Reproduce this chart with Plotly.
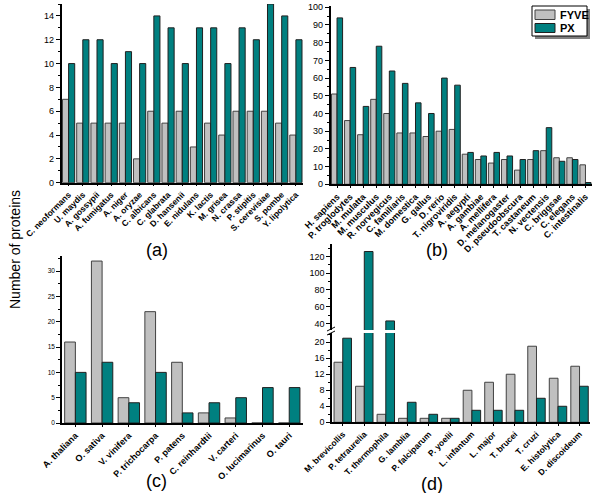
import plotly.graph_objects as go

# ---------------- data ----------------
a_species = ["C. neoformans", "U. maydis", "A. gossypii", "A. fumigatus", "A. niger", "A. oryzae",
             "C. albicans", "C. glabrata", "D. hansenii", "E. nidulans", "K. lactis", "M. grisea",
             "N. crassa", "P. stipitis", "S. cerevisiae", "S. pombe", "Y. lipolytica"]
a_fyve = [7, 5, 5, 5, 5, 2, 6, 5, 6, 3, 5, 4, 6, 6, 6, 5, 4]
a_px = [10, 12, 12, 10, 11, 10, 14, 13, 10, 13, 13, 10, 13, 12, 15, 14, 12]

b_species = ["H. sapiens", "P. troglodytes", "M. mulatta", "M. musculus", "R. norvegicus",
             "C. familiaris", "M. domestica", "G. gallus", "D. rerio", "T. nigroviridis",
             "A. aegypti", "A. gambiae", "A. mellifera", "D. melanogaster", "D. pseudoobscura",
             "T. castaneum", "N. vectensis", "C. briggsae", "C. elegans", "C. intestinalis"]
b_fyve = [51, 36, 28, 48, 40, 29, 29, 27, 30, 31, 17, 14, 12, 14, 8, 14, 19, 15, 15, 11]
b_px = [94, 66, 44, 78, 64, 57, 46, 40, 60, 56, 18, 16, 18, 16, 14, 19, 32, 13, 14, 1]

c_species = ["A. thaliana", "O. sativa", "V. vinifera", "P. trichocarpa", "P. patens",
             "C. reinhardtii", "V. carteri", "O. lucimarinus", "O. tauri"]
c_fyve = [16, 32, 5, 22, 12, 2, 1, 0, 0]
c_px = [10, 12, 4, 10, 2, 4, 5, 7, 7]

d_species = ["M. brevicollis", "P. tetraurelia", "T. thermophila", "G. lamblia", "P. falciparum",
             "P. yoelii", "L. infantum", "L. major", "T. brucei", "T. cruzi", "E. histolytica",
             "D. discoideum"]
d_fyve = [15, 9, 2, 1, 1, 1, 8, 10, 12, 19, 11, 14]
d_px = [21, 126, 43, 5, 2, 1, 3, 3, 3, 6, 4, 9]

series_names = ["FYVE", "PX"]

GRAY = "#c0c0c0"
TEAL = "#008080"
FONT = "Liberation Sans, Arial, sans-serif"
W, H = 600, 493


def px2x(p):
    return p / W


def px2y(p):
    return 1 - p / H


fig = go.Figure()


def add_pair(cats, fy, pxv, xa, ya, gap):
    w = (1 - gap) / 2
    fig.add_trace(go.Bar(x=cats, y=fy, name=series_names[0], xaxis=xa, yaxis=ya,
                         marker=dict(color=GRAY, line=dict(color="#404040", width=1)),
                         width=w, offset=-w, showlegend=False))
    fig.add_trace(go.Bar(x=cats, y=pxv, name=series_names[1], xaxis=xa, yaxis=ya,
                         marker=dict(color=TEAL, line=dict(color="#202020", width=1)),
                         width=w, offset=0, showlegend=False))


add_pair(a_species, a_fyve, a_px, "x", "y", 0.14)
add_pair(b_species, b_fyve, b_px, "x2", "y2", 0.15)
add_pair(c_species, c_fyve, c_px, "x3", "y3", 0.2)
add_pair(d_species, d_fyve, d_px, "x4", "y4", 0.19)
add_pair(d_species, d_fyve, d_px, "x4", "y5", 0.19)

xcommon = dict(showline=True, linecolor="black", linewidth=1.5, ticks="outside", ticklen=2,
               tickcolor="black", tickangle=-45, showgrid=False, zeroline=False, type="category",
               automargin=False, tickmode="array")
ycommon = dict(showline=True, linecolor="black", linewidth=1.5, ticks="outside", ticklen=4,
               tickcolor="black", showgrid=False, zeroline=False, automargin=False,
               tickfont=dict(family=FONT, size=9, color="black"))


def xfont(s):
    return dict(family=FONT, size=s, color="black", weight="bold")


fig.update_layout(
    width=W, height=H, margin=dict(l=0, r=0, t=0, b=0, autoexpand=False),
    paper_bgcolor="white", plot_bgcolor="white", barmode="overlay", showlegend=False,
    font=dict(family=FONT, color="black"),
    xaxis=dict(xcommon, domain=[px2x(61.5), px2x(303)], anchor="y",
               range=[-0.5, len(a_species) - 0.5], tickvals=a_species, ticktext=a_species,
               tickfont=xfont(8.5)),
    yaxis=dict(ycommon, domain=[px2y(182.7), px2y(4)], anchor="x", range=[0, 15], dtick=2,
               minor=dict(dtick=1, ticklen=2, ticks="outside", tickcolor="black")),
    xaxis2=dict(xcommon, domain=[px2x(330.5), px2x(592)], anchor="y2",
                range=[-0.5, len(b_species) - 0.5], tickvals=b_species, ticktext=b_species,
                tickfont=xfont(9)),
    yaxis2=dict(ycommon, domain=[px2y(184.3), px2y(5.5)], anchor="x2", range=[0, 101], dtick=10,
                minor=dict(dtick=5, ticklen=2, ticks="outside", tickcolor="black")),
    xaxis3=dict(xcommon, domain=[px2x(62), px2x(302.6)], anchor="y3",
                range=[-0.5, len(c_species) - 0.5], tickvals=c_species, ticktext=c_species,
                tickfont=xfont(9)),
    yaxis3=dict(ycommon, domain=[px2y(423), px2y(256)], anchor="x3", range=[0, 33], dtick=5,
                tickfont=dict(family=FONT, size=6.5, color="black"),
                minor=dict(dtick=2.5, ticklen=2, ticks="outside", tickcolor="black")),
    xaxis4=dict(xcommon, domain=[px2x(332), px2x(590.3)], anchor="y4",
                range=[-0.5, len(d_species) - 0.5], tickvals=d_species, ticktext=d_species,
                tickfont=xfont(8.5)),
    yaxis4=dict(ycommon, domain=[px2y(422.3), px2y(331.8)], anchor="x4", range=[0, 22.6],
                tickvals=[0, 4, 8, 12, 16, 20],
                minor=dict(dtick=2, ticklen=2, ticks="outside", tickcolor="black")),
    yaxis5=dict(ycommon, domain=[px2y(331.8), px2y(244)], anchor="x4", range=[30, 135],
                tickvals=[40, 60, 80, 100, 120],
                minor=dict(tickvals=[50, 70, 90, 110, 130], ticklen=2, ticks="outside",
                           tickcolor="black")),
)


def prect(x0, y0, x1, y1, fill, lc=None, lw=0):
    return dict(type="rect", xref="paper", yref="paper", x0=px2x(x0), x1=px2x(x1),
                y0=px2y(y1), y1=px2y(y0), fillcolor=fill,
                line=dict(color=lc or fill, width=lw), layer="above")


shapes = [
    # broken-axis gap in panel (d)
    prect(329, 330, 592, 333, "white"),
    dict(type="line", xref="paper", yref="paper", x0=px2x(327), x1=px2x(335),
         y0=px2y(331), y1=px2y(327), line=dict(color="black", width=1)),
    dict(type="line", xref="paper", yref="paper", x0=px2x(327), x1=px2x(335),
         y0=px2y(335), y1=px2y(331), line=dict(color="black", width=1)),
    # legend: shadow, box, swatches
    prect(535, 9, 590, 39, "#808080"),
    prect(532, 6, 587, 36, "white", "black", 1),
    prect(535, 10, 555, 19.5, GRAY, "#404040", 1),
    prect(535, 23.5, 555, 32.5, TEAL, "#202020", 1),
]
fig.update_layout(shapes=shapes)

annotations = [
    dict(text="Number of proteins", x=px2x(15), y=px2y(250), xref="paper", yref="paper",
         xanchor="center", yanchor="middle",
         textangle=-90, showarrow=False, font=dict(family=FONT, size=14, color="black")),
    dict(text=series_names[0], x=px2x(558), y=px2y(15), xref="paper", yref="paper",
         xanchor="left", yanchor="middle", showarrow=False,
         font=dict(family=FONT, size=11, color="black", weight="bold")),
    dict(text=series_names[1], x=px2x(558), y=px2y(28.5), xref="paper", yref="paper",
         xanchor="left", yanchor="middle", showarrow=False,
         font=dict(family=FONT, size=11, color="black", weight="bold")),
]
for lab, xx, yy in [("(a)", 157, 250), ("(b)", 437, 250), ("(c)", 156, 481), ("(d)", 432, 484)]:
    annotations.append(dict(text=lab, x=px2x(xx), y=px2y(yy), xref="paper", yref="paper",
                            xanchor="center", yanchor="middle",
                            showarrow=False, font=dict(family=FONT, size=18, color="black")))
fig.update_layout(annotations=annotations)

fig.write_html("out.html", config={"displayModeBar": False},
               post_script="document.body.style.margin='0';document.body.style.overflow='hidden';")
